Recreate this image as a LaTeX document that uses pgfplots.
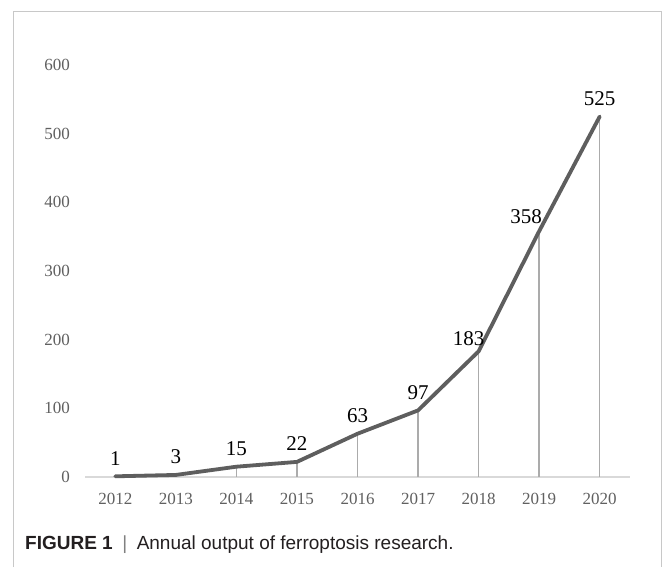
\documentclass[border=0pt]{standalone}
\usepackage{fontspec}
\setmainfont{Liberation Serif}
\setsansfont{Liberation Sans}
\usepackage{pgfplots}
\usepackage{pgfplotstable}
\pgfplotsset{compat=1.18}
\definecolor{linegray}{HTML}{5E5E5E}
\definecolor{dropgray}{HTML}{ABABAB}
\definecolor{axisgray}{HTML}{D9D9D9}
\definecolor{ticktext}{HTML}{606060}
\definecolor{bordergray}{HTML}{C8C8C8}
\definecolor{captext}{HTML}{231F20}
\pgfplotstableread{
x y
0 1
1 3
2 15
3 22
4 63
5 97
6 183
7 358
8 525
}\datatable
\begin{document}
\begin{tikzpicture}
\useasboundingbox (0,0) rectangle (663pt,567pt);
\fill[white] (0,0) rectangle (663pt,567pt);
\draw[bordergray, line width=1pt] (13pt,0) -- (13pt,555pt) -- (661.5pt,555pt) -- (661.5pt,0);
\begin{axis}[
  at={(85pt,90pt)}, anchor=south west,
  scale only axis, width=545pt, height=412pt,
  xmin=-0.5, xmax=8.5, ymin=0, ymax=600,
  axis x line*=bottom, axis y line*=left,
  y axis line style={draw=none},
  x axis line style={draw=axisgray, line width=1.2pt, -},
  xtick={0,1,2,3,4,5,6,7,8},
  xticklabels={2012,2013,2014,2015,2016,2017,2018,2019,2020},
  ytick={0,100,200,300,400,500,600},
  major tick length=0pt,
  /pgf/number format/assume math mode=true,
  tick label style={font=\fontsize{17}{20}\selectfont, text=ticktext},
  yticklabel style={anchor=east, inner sep=0pt, xshift=-15pt},
  xticklabel style={anchor=north, inner sep=0pt, yshift=-16pt},
  clip=false,
]
\addplot[ycomb, draw=dropgray, line width=1.5pt, mark=none] table {\datatable};
\addplot[draw=linegray, line width=3.8pt, line join=round, line cap=round, mark=none,
  nodes near coords,
  nodes near coords style={font=\fontsize{21}{24}\selectfont, text=black, anchor=center, inner sep=0pt, yshift=18pt},
  coordinate style/.condition={x==6}{xshift=-10pt, yshift=-5pt},
  coordinate style/.condition={x==7}{xshift=-13pt, yshift=-3pt},
] table {\datatable};
\end{axis}
\node[anchor=base west, inner sep=0pt, text=captext] at (25pt,18pt) {\sffamily\fontsize{19}{22}\selectfont\textbf{FIGURE 1}\enspace{\color{gray}|}\enspace Annual output of ferroptosis research.};
\end{tikzpicture}
\end{document}
